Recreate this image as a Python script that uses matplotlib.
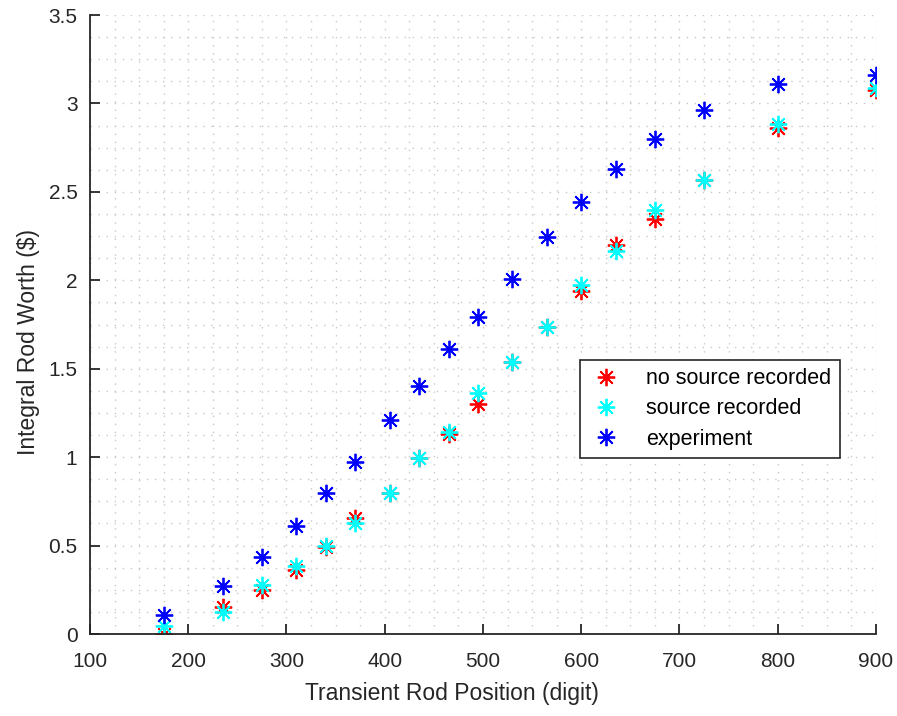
import matplotlib
matplotlib.use('Agg')
import matplotlib.pyplot as plt
from matplotlib.ticker import MultipleLocator, FuncFormatter

plt.rcParams['font.family'] = ['Liberation Sans', 'DejaVu Sans']

# rod positions (digit)
position = [175, 235, 275, 310, 340, 370, 405, 435, 465, 495, 530, 565, 600, 635, 675, 725, 800, 900]

# integral rod worth ($)
no_source = [0.0, 0.155, 0.25, 0.36, 0.49, 0.655, 0.795, 0.995, 1.13, 1.30, 1.54, 1.735,
             1.94, 2.20, 2.345, 2.57, 2.86, 3.075]
with_source = [0.045, 0.125, 0.275, 0.385, 0.50, 0.63, 0.795, 0.995, 1.14, 1.36, 1.54, 1.735,
               1.975, 2.165, 2.395, 2.57, 2.885, 3.085]
experiment = [0.105, 0.27, 0.435, 0.61, 0.795, 0.975, 1.21, 1.405, 1.61, 1.79, 2.005, 2.245,
              2.445, 2.63, 2.80, 2.965, 3.11, 3.16]

fig = plt.figure(figsize=(8.97, 7.16), dpi=100)
ax = fig.add_axes([0.1003, 0.1145, 0.8763, 0.8645])

mk = dict(marker=(8, 2, 0), markersize=12.5, markeredgewidth=1.3, linestyle='none')
ax.plot(position, no_source, color='#ff0000', label='no source recorded', **mk)
ax.plot(position, with_source, color='#00ffff', label='source recorded', **mk)
ax.plot(position, experiment, color='#0000ff', label='experiment', **mk)

ax.set_xlim(100, 900)
ax.set_ylim(0, 3.5)
ax.xaxis.set_major_locator(MultipleLocator(100))
ax.xaxis.set_minor_locator(MultipleLocator(25))
ax.yaxis.set_major_locator(MultipleLocator(0.5))
ax.yaxis.set_minor_locator(MultipleLocator(0.125))
ax.yaxis.set_major_formatter(FuncFormatter(lambda v, p: f'{v:g}'))

ax.grid(which='both', linestyle=(0, (1, 4.8)), color='#c8c8c8', linewidth=1.0)
ax.set_axisbelow(True)

for s in ['top', 'right']:
    ax.spines[s].set_visible(False)
for s in ['left', 'bottom']:
    ax.spines[s].set_color('#262626')
    ax.spines[s].set_linewidth(1.3)

ax.tick_params(which='major', direction='in', length=7, width=1.3, color='#262626',
               labelsize=15, labelcolor='#262626')
ax.tick_params(axis='x', which='major', pad=13)
ax.tick_params(axis='y', which='major', pad=9)
ax.tick_params(which='minor', length=0)

ax.set_xlabel('Transient Rod Position (digit)', fontsize=16.5, color='#262626')
ax.set_ylabel('Integral Rod Worth ($)', fontsize=16.5, color='#262626')
ax.xaxis.set_label_coords(0.46, -0.078)
ax.yaxis.set_label_coords(-0.064, 0.472)

leg = ax.legend(loc='upper left', bbox_to_anchor=(0.623, 0.443), borderaxespad=0,
                fontsize=15.5, fancybox=False, framealpha=1, edgecolor='#262626',
                handletextpad=1.1, borderpad=0.4, labelspacing=0.42, handlelength=1.6)
leg.get_frame().set_linewidth(1.2)

fig.savefig('out.png', dpi=100)
